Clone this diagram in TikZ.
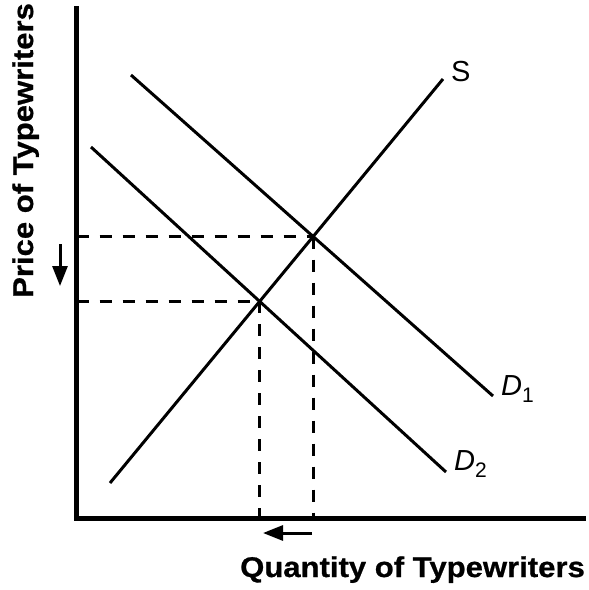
\documentclass[tikz,border=0pt]{standalone}
\usepackage{fontspec}
\setmainfont{Liberation Sans}
\newfontfamily\axisfont[FakeStretch=1.09,BoldFeatures={FakeBold=0.8}]{Liberation Sans}
\usetikzlibrary{arrows.meta}
\begin{document}
\begin{tikzpicture}[x=1pt,y=-1pt,
  axis/.style={line width=5pt},
  curve/.style={line width=3pt},
  guide/.style={line width=3pt,dash pattern=on 12pt off 11pt},
  shiftarrow/.style={line width=3pt,-{Triangle[length=20pt,width=15pt]}},
  axislabel/.style={inner sep=0pt,font=\axisfont\bfseries\fontsize{28.5}{28.5}\selectfont},
  curvelabel/.style={inner sep=0pt,font=\fontsize{29}{29}\selectfont}]
\useasboundingbox (0,0) rectangle (589,590);
% axes
\coordinate (O) at (76.5,518);
\coordinate (Ytop) at (76.5,6);
\coordinate (Xend) at (586,518);
\draw[axis] (Ytop) -- (O) -- (Xend);
% curves
\coordinate (S0) at (110,483); \coordinate (S1) at (443,79);
\coordinate (A0) at (131,75);  \coordinate (A1) at (493,396);
\coordinate (B0) at (91,147);  \coordinate (B1) at (446,472);
\draw[curve] (S0) -- (S1);
\draw[curve] (A0) -- (A1);
\draw[curve] (B0) -- (B1);
% equilibria
\coordinate (E1) at (intersection of S0--S1 and A0--A1);
\coordinate (E2) at (intersection of S0--S1 and B0--B1);
\draw[guide] (O |- E1) -- (E1);
\draw[guide] (O |- E2) -- (E2);
\draw[guide] (E1) -- (E1 |- O);
\draw[guide] (E2) -- (E2 |- O);
% shift arrows
\coordinate (PA) at (60,244); \coordinate (PB) at (60,286);
\draw[shiftarrow] (PA) -- (PB);
\coordinate (QA) at (312,533); \coordinate (QB) at (263,533);
\draw[shiftarrow] (QA) -- (QB);
% labels
\node[curvelabel,anchor=base west] (Slab) at (451,81) {S};
\node[curvelabel,anchor=base west] (D1lab) at (501,395) {\itshape D\raisebox{-7pt}{\fontsize{21}{21}\selectfont\upshape 1}};
\node[curvelabel,anchor=base west] (D2lab) at (454,470) {\itshape D\raisebox{-7pt}{\fontsize{21}{21}\selectfont\upshape 2}};
\node[axislabel,anchor=base east] (xlab) at (585,577) {Quantity of Typewriters};
\node[axislabel,anchor=base west,rotate=90] (ylab) at (33,298) {Price of Typewriters};
\end{tikzpicture}
\end{document}
